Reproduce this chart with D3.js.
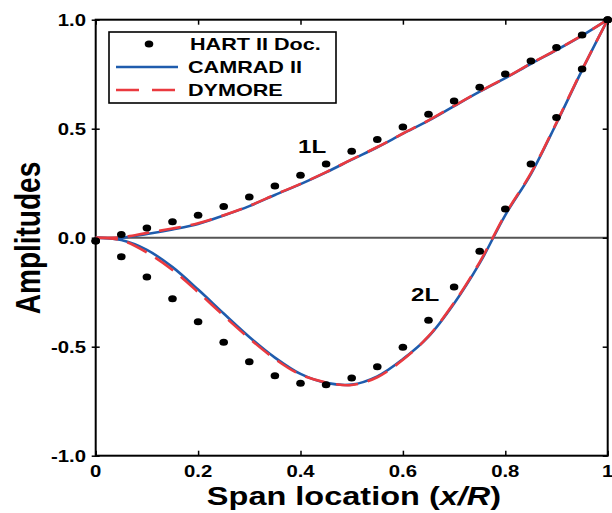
<!DOCTYPE html>
<html>
<head>
<meta charset="utf-8">
<script src="https://cdn.jsdelivr.net/npm/d3@7"></script>
<style>
  html, body { margin: 0; padding: 0; background: #fff; }
  svg { display: block; font-family: "Liberation Sans", Arial, sans-serif; font-weight: bold; }
</style>
</head>
<body>
<svg id="chart" width="612" height="513"></svg>
<script>
// Span stations (x/R)
const span = [0, 0.05, 0.1, 0.15, 0.2, 0.25, 0.3, 0.35, 0.4, 0.45, 0.5,
              0.55, 0.6, 0.65, 0.7, 0.75, 0.8, 0.85, 0.9, 0.95, 1.0];

// HART II documented mode shapes
const hart1L = [-0.015, 0.015, 0.045, 0.073, 0.103, 0.143, 0.187, 0.237, 0.287, 0.338, 0.397,
                0.451, 0.508, 0.566, 0.627, 0.690, 0.751, 0.810, 0.873, 0.930, 1.0];
const hart2L = [-0.015, -0.087, -0.180, -0.280, -0.385, -0.480, -0.569, -0.633, -0.668, -0.674, -0.644,
                -0.592, -0.503, -0.379, -0.226, -0.062, 0.132, 0.338, 0.551, 0.774, 1.0];

// CAMRAD II predictions
const camrad1L = [0, 0.0, 0.017, 0.038, 0.063, 0.102, 0.145, 0.196, 0.246, 0.300, 0.358,
                  0.415, 0.477, 0.537, 0.604, 0.670, 0.732, 0.798, 0.861, 0.927, 1.0];
const camrad2L = [0, -0.011, -0.056, -0.135, -0.238, -0.348, -0.455, -0.550, -0.625, -0.666, -0.674,
                  -0.636, -0.557, -0.454, -0.302, -0.117, 0.104, 0.292, 0.525, 0.769, 1.0];

// DYMORE predictions
const dymore1L = [0, 0.002, 0.022, 0.042, 0.066, 0.103, 0.146, 0.197, 0.247, 0.301, 0.359,
                  0.416, 0.478, 0.538, 0.605, 0.671, 0.733, 0.799, 0.862, 0.928, 1.0];
const dymore2L = [0, -0.012, -0.068, -0.148, -0.250, -0.358, -0.462, -0.556, -0.628, -0.664, -0.676,
                  -0.640, -0.560, -0.452, -0.298, -0.112, 0.108, 0.296, 0.528, 0.771, 1.0];

// Axis ticks
const xTicks = [0, 0.2, 0.4, 0.6, 0.8, 1];
const xTickLabels = ["0", "0.2", "0.4", "0.6", "0.8", "1"];
const yTicks = [-1, -0.5, 0, 0.5, 1];
const yTickLabels = ["-1.0", "-0.5", "0.0", "0.5", "1.0"];

const legendLabels = ["HART II Doc.", "CAMRAD II", "DYMORE"];

const BLUE = "#1f5cad";
const RED = "#ea3a3f";
const SX = 1.27; // horizontal stretch of lettering

const svg = d3.select("#chart");
const L = 95.7, R = 607.7, T = 19.7, B = 455.7;

const x = d3.scaleLinear().domain([0, 1]).range([L, R]);
const y = d3.scaleLinear().domain([-1, 1]).range([B, T]);

// text helper: places a string at (px,py) with horizontal stretch
function label(parent, px, py, str, size, anchor, sx = SX) {
  return parent.append("g")
    .attr("transform", `translate(${px},${py}) scale(${sx},1)`)
    .append("text")
    .attr("text-anchor", anchor)
    .attr("font-size", size)
    .attr("fill", "#000")
    .text(str);
}

// zero reference line
svg.append("line")
  .attr("x1", x(0)).attr("x2", x(1))
  .attr("y1", y(0)).attr("y2", y(0))
  .attr("stroke", "#555").attr("stroke-width", 2);

// axes (ticks only; frame drawn separately)
const gB = svg.append("g").attr("transform", `translate(0,${B})`)
  .call(d3.axisBottom(x).tickValues(xTicks).tickSize(-5).tickFormat(""));
const gT = svg.append("g").attr("transform", `translate(0,${T})`)
  .call(d3.axisTop(x).tickValues(xTicks).tickSize(-5).tickFormat(""));
const gL = svg.append("g").attr("transform", `translate(${L},0)`)
  .call(d3.axisLeft(y).tickValues(yTicks).tickSize(5).tickFormat(""));
const gR = svg.append("g").attr("transform", `translate(${R},0)`)
  .call(d3.axisRight(y).tickValues(yTicks).tickSize(-5).tickFormat(""));
[gB, gT, gL, gR].forEach(g => {
  g.select(".domain").remove();
  g.selectAll(".tick line").attr("stroke", "#000").attr("stroke-width", 1.5);
});
gL.selectAll(".tick line").attr("x2", 4).attr("x1", -4);

// tick labels
xTicks.forEach((v, i) => label(svg, x(v), 477, xTickLabels[i], 16, "middle"));
yTicks.forEach((v, i) => label(svg, 86, y(v) + 6, yTickLabels[i], 16, "end"));

// frame
svg.append("rect")
  .attr("x", L).attr("y", T).attr("width", R - L).attr("height", B - T)
  .attr("fill", "none").attr("stroke", "#000").attr("stroke-width", 2);

// curves
const line = d3.line()
  .x((d, i) => x(span[i]))
  .y(d => y(d))
  .curve(d3.curveCatmullRom.alpha(0.5));

[camrad1L, camrad2L].forEach(s =>
  svg.append("path").attr("d", line(s))
    .attr("fill", "none").attr("stroke", BLUE).attr("stroke-width", 2.6));
[dymore1L, dymore2L].forEach(s =>
  svg.append("path").attr("d", line(s))
    .attr("fill", "none").attr("stroke", RED).attr("stroke-width", 2.6)
    .attr("stroke-dasharray", "22,10"));

// measured points
[hart1L, hart2L].forEach(s =>
  svg.append("g").selectAll("ellipse").data(s).join("ellipse")
    .attr("cx", (d, i) => x(span[i]))
    .attr("cy", d => y(d))
    .attr("rx", 4.3).attr("ry", 3.5)
    .attr("fill", "#000"));

// mode labels
label(svg, 298, 153, "1L", 19, "start");
label(svg, 411, 301, "2L", 19, "start");

// legend
const lg = svg.append("g");
lg.append("rect")
  .attr("x", 109).attr("y", 32).attr("width", 227).attr("height", 71)
  .attr("fill", "#fff").attr("stroke", "#000").attr("stroke-width", 1.6);
lg.append("ellipse").attr("cx", 149).attr("cy", 44).attr("rx", 4.3).attr("ry", 3.5).attr("fill", "#000");
lg.append("line").attr("x1", 116).attr("x2", 178).attr("y1", 67).attr("y2", 67)
  .attr("stroke", BLUE).attr("stroke-width", 2.6);
lg.append("line").attr("x1", 116).attr("x2", 178).attr("y1", 90).attr("y2", 90)
  .attr("stroke", RED).attr("stroke-width", 2.6).attr("stroke-dasharray", "23,13");
label(lg, 190, 50, legendLabels[0], 17, "start");
label(lg, 188, 73, legendLabels[1], 17, "start");
label(lg, 188, 96, legendLabels[2], 17, "start");

// axis titles
const xt = svg.append("g").attr("transform", `translate(354,505) scale(1.25,1)`)
  .append("text").attr("text-anchor", "middle").attr("font-size", 26);
xt.append("tspan").text("Span location (");
xt.append("tspan").attr("font-style", "italic").text("x/R");
xt.append("tspan").text(")");

svg.append("g").attr("transform", "translate(40,238) rotate(-90) scale(1,1.25)")
  .append("text").attr("text-anchor", "middle").attr("font-size", 28).text("Amplitudes");
</script>
</body>
</html>
